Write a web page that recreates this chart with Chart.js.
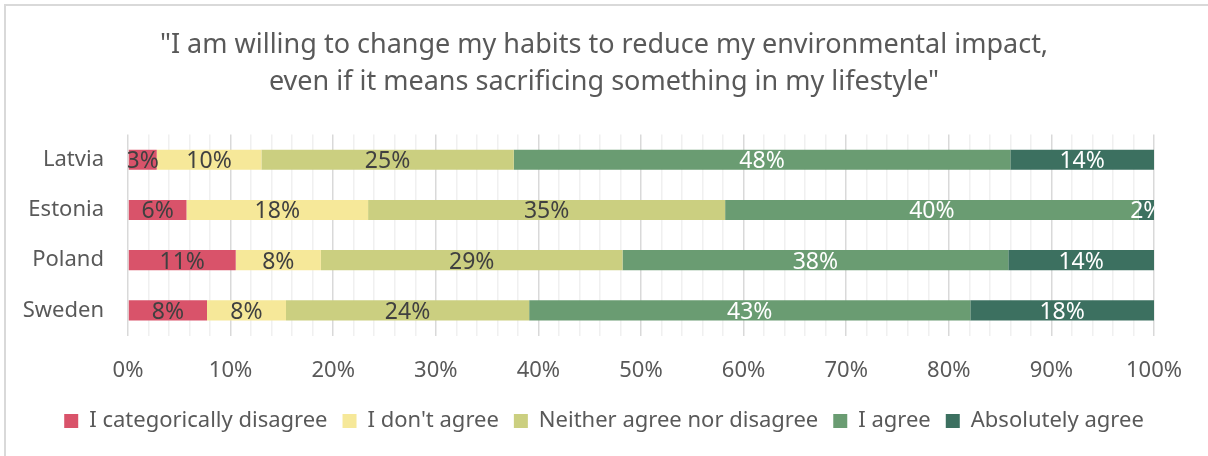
<!DOCTYPE html>
<html>
<head>
<meta charset="utf-8">
<script src="https://cdn.jsdelivr.net/npm/chart.js@4/dist/chart.umd.min.js"></script>
<style>
  html, body { margin: 0; padding: 0; background: #fff; }
  #frame {
    position: absolute; left: 4px; top: 4px; width: 1204px; height: 452px;
    border-left: 2px solid #d9d9d9; border-top: 2px solid #d9d9d9; box-sizing: border-box;
  }
  #wrap { position: absolute; left: 0; top: 0; width: 1208px; height: 456px; }
</style>
</head>
<body>
<div id="frame"></div>
<div id="wrap"><canvas id="chart"></canvas></div>
<script>
const countries = ['Latvia', 'Estonia', 'Poland', 'Sweden'];
const answers = ['I categorically disagree', "I don't agree", 'Neither agree nor disagree', 'I agree', 'Absolutely agree'];

// share of respondents, %
const catDisagree = [2.8, 5.7, 10.5, 7.7];
const dontAgree = [10.2, 17.7, 8.3, 7.7];
const neither = [24.6, 34.8, 29.4, 23.7];
const agree = [48.4, 40.3, 37.6, 43.0];
const absAgree = [14.0, 1.5, 14.2, 17.9];

const xTicks = [0, 10, 20, 30, 40, 50, 60, 70, 80, 90, 100];

const colours = ['#d9536a', '#f6e899', '#cbcf80', '#6a9c72', '#3c7060'];
const labelColours = ['#404040', '#404040', '#404040', '#ffffff', '#ffffff'];
const FONT = "'Noto Sans', sans-serif";

const series = [catDisagree, dontAgree, neither, agree, absAgree];

const barLabels = {
  id: 'barLabels',
  afterDatasetsDraw(chart) {
    const ctx = chart.ctx;
    const area = chart.chartArea;
    ctx.save();
    ctx.beginPath();
    ctx.rect(area.left, area.top, area.right - area.left, area.bottom - area.top);
    ctx.clip();
    ctx.font = '23px ' + FONT;
    ctx.textAlign = 'center';
    ctx.textBaseline = 'middle';
    chart.data.datasets.forEach((ds, i) => {
      chart.getDatasetMeta(i).data.forEach((bar, j) => {
        const p = bar.getProps(['x', 'y', 'base'], true);
        ctx.fillStyle = labelColours[i];
        ctx.fillText(Math.round(ds.data[j]) + '%', (p.x + p.base) / 2, p.y + 2);
      });
    });
    ctx.restore();
  }
};

new Chart(document.getElementById('chart'), {
  type: 'bar',
  data: {
    labels: countries,
    datasets: answers.map((a, i) => ({
      label: a,
      data: series[i],
      backgroundColor: colours[i],
      borderWidth: 0,
      barPercentage: 0.5,
      categoryPercentage: 0.8
    }))
  },
  options: {
    indexAxis: 'y',
    responsive: true,
    maintainAspectRatio: false,
    animation: false,
    layout: { padding: { left: 0, right: 0, top: 0, bottom: 14 } },
    scales: {
      x: {
        stacked: true,
        min: 0,
        max: 100,
        afterBuildTicks(scale) {
          const t = [];
          for (let v = 0; v <= 100; v += 2) t.push({ value: v });
          scale.ticks = t;
        },
        afterFit(scale) { scale.height = 59.5; },
        ticks: {
          autoSkip: false,
          maxRotation: 0,
          padding: 22,
          color: '#595959',
          font: { family: FONT, size: 22 },
          callback: v => xTicks.includes(v) ? v + '%' : ''
        },
        grid: {
          drawTicks: false,
          lineWidth: 1.5,
          color: c => (c.tick && c.tick.value % 10 === 0) ? '#d9d9d9' : '#f0f0f0'
        },
        border: { display: false }
      },
      y: {
        stacked: true,
        afterFit(scale) { scale.width = 128; },
        ticks: {
          padding: 24,
          color: '#595959',
          font: { family: FONT, size: 22 }
        },
        grid: { display: false, drawTicks: false },
        border: { display: false }
      },
      yRight: {
        position: 'right',
        afterFit(scale) { scale.width = 54; },
        ticks: { display: false },
        grid: { display: false, drawTicks: false },
        border: { display: false }
      }
    },
    plugins: {
      title: {
        display: true,
        text: ['"I am willing to change my habits to reduce my environmental impact,',
               'even if it means sacrificing something in my lifestyle"'],
        color: '#595959',
        font: { family: FONT, size: 27, weight: 'normal', lineHeight: 1.4 },
        padding: { top: 26, bottom: 33 }
      },
      legend: {
        position: 'bottom',
        labels: {
          boxWidth: 14,
          boxHeight: 14,
          padding: 15,
          color: '#595959',
          font: { family: FONT, size: 22 }
        }
      },
      tooltip: { enabled: false }
    }
  },
  plugins: [barLabels]
});
</script>
</body>
</html>
